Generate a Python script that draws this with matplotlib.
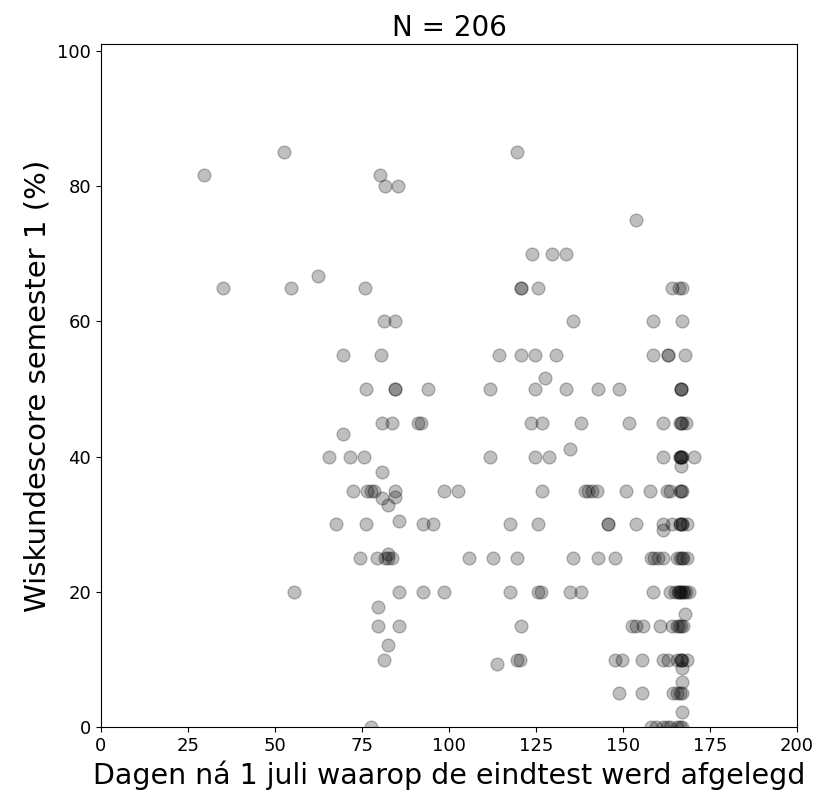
import numpy as np
import matplotlib.pyplot as plt

# Dag na 1 juli waarop de eindtest werd afgelegd, en de wiskundescore (%) van semester 1
dagen = [
    29.5, 35, 52.5, 54.5, 55.5, 62.5, 65.5, 67.5, 69.5, 69.5,
    71.5, 72.5, 74.5, 75.5, 76, 76.3, 76.3, 76.5, 77.5, 78.5,
    77.6, 79.2, 79.5, 79.5, 80.6, 80.7, 80.7, 80.2, 80.7, 81.6,
    81.3, 81.4, 81.5, 82.6, 82.5, 82.6, 82.6, 83.5, 83.7, 84.5,
    84.5, 84.5, 84.5, 84.5, 85.3, 85.6, 85.6, 85.6, 91.2, 92.1,
    92.6, 92.6, 94, 95.5, 98.6, 98.6, 102.7, 105.7, 111.8, 111.8,
    112.7, 113.7, 114.5, 117.5, 117.5, 119.6, 119.6, 119.5, 120.5, 120.6,
    120.6, 120.6, 120.6, 123.8, 123.6, 124.7, 124.7, 124.7, 125.7, 125.7,
    125.5, 126.5, 126.8, 126.6, 127.6, 128.7, 129.7, 130.7, 133.6, 133.6,
    134.8, 134.8, 135.7, 135.7, 137.8, 137.8, 139, 140, 141, 142.5,
    142.7, 142.7, 145.8, 145.8, 147.7, 147.7, 149.6, 148.9, 148.9, 150.9,
    151.8, 152.5, 153.7, 155.8, 153.7, 153.8, 155.6, 155.6, 157.8, 158.7,
    158.7, 158, 159, 160, 161.5, 158.7, 160.6, 161.6, 161.6, 161.6,
    161.6, 161.6, 162.6, 162.8, 162.8, 163.5, 164, 163.5, 163, 164,
    164, 164.5, 158, 159.5, 161.5, 162.5, 163.5, 165.5, 166.5, 167,
    166, 167, 166.9, 167.8, 166.7, 166.7, 166.7, 166.4, 166.9, 168,
    166.5, 166.7, 167, 166.7, 166.7, 170.5, 166.5, 166.9, 166.5, 166.9,
    167, 168.3, 166.5, 166.9, 167.2, 168.3, 165, 165.8, 166.3, 166.7,
    167.2, 168, 169, 167.7, 165.4, 166.8, 167.3, 165.4, 166.7, 167,
    168.3, 166.9, 166.9, 165.5, 166.5, 167, 166.9, 165.5, 166.2, 167.5,
    166.5, 166.3, 166.7, 166.7, 166.2, 166.7,
]
score = [
    81.7, 65, 85, 65, 20, 66.7, 40, 30, 55, 43.3,
    40, 35, 25, 40, 65, 50, 30, 35, 35, 35,
    0, 25, 17.8, 15, 55, 45, 37.8, 81.7, 33.9, 80,
    60, 10, 25, 25.6, 25, 32.8, 12.2, 25, 45, 50,
    50, 60, 35, 34, 80, 30.5, 20, 15, 45, 45,
    30, 20, 50, 30, 35, 20, 35, 25, 50, 40,
    25, 9.4, 55, 30, 20, 85, 25, 10, 10, 65,
    65, 55, 15, 70, 45, 55, 50, 40, 65, 30,
    20, 20, 45, 35, 51.7, 40, 70, 55, 70, 50,
    41.1, 20, 60, 25, 20, 45, 35, 35, 35, 35,
    50, 25, 30, 30, 25, 10, 10, 50, 5, 35,
    45, 15, 15, 15, 75, 30, 10, 5, 35, 60,
    55, 25, 25, 25, 25, 20, 15, 45, 40, 10,
    29.2, 30, 35, 55, 55, 20, 65, 35, 10, 15,
    30, 5, 0, 0, 0, 0, 0, 0, 0, 0,
    65, 65, 60, 55, 50, 50, 50, 45, 45, 45,
    40, 40, 40, 40, 38.7, 40, 35, 35, 30, 30,
    30, 30, 25, 25, 25, 25, 20, 20, 20, 20,
    20, 20, 20, 16.7, 15, 15, 15, 10, 10, 10,
    10, 8.7, 6.7, 5, 5, 5, 2.3, 25, 20, 20,
    30, 40, 35, 10, 15, 45,
]

fig, ax = plt.subplots(figsize=(8.2, 8.01), dpi=100)
fig.subplots_adjust(left=0.123, right=0.972, bottom=0.092, top=0.945)

ax.scatter(dagen, score, color="k", alpha=0.25, s=85)

ax.set_xlim(0, 200)
ax.set_ylim(0, 101)
ax.set_xticks(np.arange(0, 201, 25))
ax.set_yticks(np.arange(0, 101, 20))
ax.tick_params(labelsize=13)

ax.set_title(f"N = {len(dagen)}", fontsize=20)
ax.set_xlabel("Dagen ná 1 juli waarop de eindtest werd afgelegd", fontsize=20.5)
ax.set_ylabel("Wiskundescore semester 1 (%)", fontsize=21)

plt.savefig("out.png", dpi=100)
